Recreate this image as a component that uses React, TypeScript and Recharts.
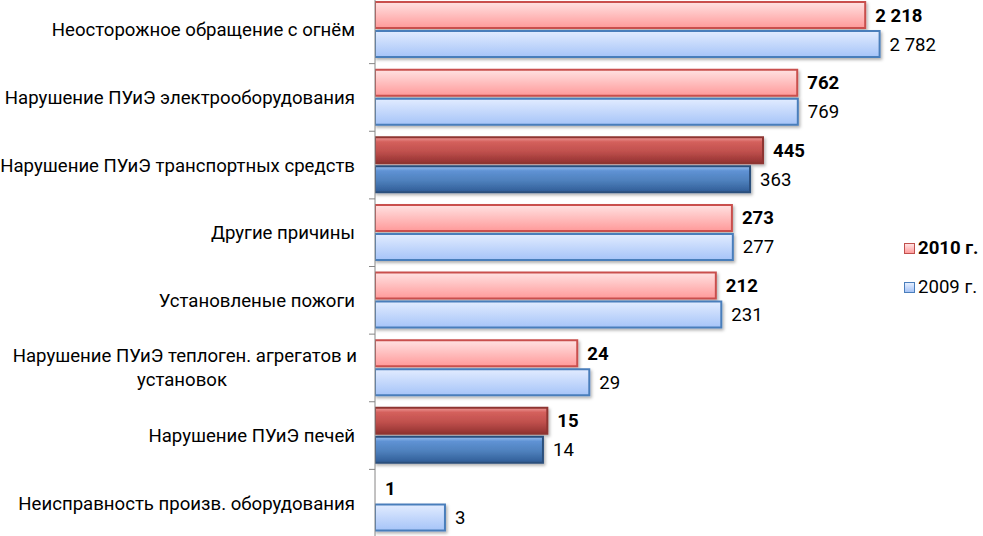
import React from 'react';
import { BarChart, Bar, XAxis, YAxis, Cell, LabelList } from 'recharts';

const categories = [
  'Неосторожное обращение с огнём',
  'Нарушение ПУиЭ электрооборудования',
  'Нарушение ПУиЭ транспортных средств',
  'Другие причины',
  'Установленые пожоги',
  'Нарушение ПУиЭ теплоген. агрегатов и\nустановок',
  'Нарушение ПУиЭ печей',
  'Неисправность произв. оборудования',
];
const values2010 = [2218, 762, 445, 273, 212, 24, 15, 1];
const values2009 = [2782, 769, 363, 277, 231, 29, 14, 3];
const highlighted = [false, false, true, false, false, false, true, false];
const seriesNames = ['2010 г.', '2009 г.'];

const data = categories.map((name, i) => ({
  name,
  y2010: values2010[i],
  y2009: values2009[i],
  hl: highlighted[i],
}));

const FONT = 'Roboto, "Noto Sans", sans-serif';
const FS = 18.6;
const CHART_H = 541;
const HALF_BAND = CHART_H / categories.length / 2;
const AXIS_MIN = 0.999;

const fmt = (v: any) => String(v).replace(/\B(?=(\d{3})+(?!\d))/g, '\u00a0');

const CatTick = (props: any) => {
  const { x, y, payload } = props;
  const lines: string[] = String(payload.value).split('\n');
  const axisX = x + 8;
  return (
    <g>
      <line x1={axisX - 6} x2={axisX} y1={y + HALF_BAND} y2={y + HALF_BAND} stroke="#868686" strokeWidth={1} />
      {lines.length === 1 ? (
        <text x={x - 12} y={y} dy="0.35em" textAnchor="end" fontFamily={FONT} fontSize={FS} fill="#000">
          {lines[0]}
        </text>
      ) : (
        <text fontFamily={FONT} fontSize={FS} fill="#000">
          <tspan x={x - 10} y={y - 12} dy="0.35em" textAnchor="end">{lines[0]}</tspan>
          <tspan x={x - 185} y={y + 12} dy="0.35em" textAnchor="middle">{lines[1]}</tspan>
        </text>
      )}
    </g>
  );
};

const makeLabel = (bold: boolean) => (props: any) => {
  const { x, y, width, height, value } = props;
  return (
    <text
      x={Number(x) + Number(width || 0) + 10}
      y={Number(y) + Number(height) / 2}
      dy="0.35em"
      textAnchor="start"
      fontFamily={FONT}
      fontSize={FS}
      fontWeight={bold ? 'bold' : 'normal'}
      fill="#000"
    >
      {fmt(value)}
    </text>
  );
};

const LegendBox = () => (
  <div style={{ position: 'absolute', left: 904, top: 237, fontFamily: FONT, fontSize: FS, color: '#000', lineHeight: '22px' }}>
    <div style={{ display: 'flex', alignItems: 'center', height: 22, fontWeight: 'bold' }}>
      <span style={{ display: 'inline-block', width: 9, height: 9, border: '1.5px solid #c0504d', background: 'linear-gradient(#ffe3e3,#ff9d9d)', marginRight: 3 }} />
      {seriesNames[0]}
    </div>
    <div style={{ display: 'flex', alignItems: 'center', height: 22, marginTop: 17 }}>
      <span style={{ display: 'inline-block', width: 9, height: 9, border: '1.5px solid #4a7ebb', background: 'linear-gradient(#e6efff,#a6c3f5)', marginRight: 3 }} />
      {seriesNames[1]}
    </div>
  </div>
);

export default function App() {
  return (
    <div style={{ position: 'absolute', left: 0, top: 0, width: 983, height: 536, overflow: 'hidden', background: '#fff' }}>
      <div style={{ position: 'absolute', left: 0, top: -4 }}>
        <BarChart
          width={983}
          height={CHART_H}
          data={data}
          layout="vertical"
          margin={{ top: 0, right: 22, bottom: 0, left: 0 }}
          barSize={26}
          barGap={3}
        >
          <defs>
            <linearGradient id="gRed" x1="0" y1="0" x2="0" y2="1">
              <stop offset="0%" stopColor="#ffe2e2" />
              <stop offset="100%" stopColor="#ff9a9a" />
            </linearGradient>
            <linearGradient id="gBlue" x1="0" y1="0" x2="0" y2="1">
              <stop offset="0%" stopColor="#e2ecff" />
              <stop offset="100%" stopColor="#a6c4f8" />
            </linearGradient>
            <linearGradient id="gRedDark" x1="0" y1="0" x2="0" y2="1">
              <stop offset="0%" stopColor="#ee9a98" />
              <stop offset="18%" stopColor="#d4605c" />
              <stop offset="55%" stopColor="#c0504d" />
              <stop offset="100%" stopColor="#923230" />
            </linearGradient>
            <linearGradient id="gBlueDark" x1="0" y1="0" x2="0" y2="1">
              <stop offset="0%" stopColor="#9cc0f0" />
              <stop offset="18%" stopColor="#5f92d4" />
              <stop offset="55%" stopColor="#4f81bd" />
              <stop offset="100%" stopColor="#2f5c96" />
            </linearGradient>
            <filter id="shadow" x="-5%" y="-20%" width="115%" height="160%">
              <feDropShadow dx="1.5" dy="2" stdDeviation="1.5" floodColor="#000" floodOpacity="0.3" />
            </filter>
          </defs>
          <XAxis type="number" scale="log" domain={[AXIS_MIN, 10000]} allowDataOverflow hide />
          <YAxis
            type="category"
            dataKey="name"
            width={375}
            axisLine={{ stroke: '#868686' }}
            tickLine={false}
            tick={<CatTick />}
            interval={0}
          />
          <Bar dataKey="y2010" name={seriesNames[0]} isAnimationActive={false} strokeWidth={2}>
            {data.map((d, i) => (
              <Cell
                key={i}
                fill={d.hl ? 'url(#gRedDark)' : 'url(#gRed)'}
                stroke={d.y2010 <= 1 ? 'none' : d.hl ? '#8e3431' : '#c9504e'}
                filter={d.y2010 <= 1 ? undefined : 'url(#shadow)'}
              />
            ))}
            <LabelList dataKey="y2010" content={makeLabel(true)} />
          </Bar>
          <Bar dataKey="y2009" name={seriesNames[1]} isAnimationActive={false} strokeWidth={2}>
            {data.map((d, i) => (
              <Cell
                key={i}
                fill={d.hl ? 'url(#gBlueDark)' : 'url(#gBlue)'}
                stroke={d.hl ? '#2c4f7c' : '#4a7ebb'}
                filter="url(#shadow)"
              />
            ))}
            <LabelList dataKey="y2009" content={makeLabel(false)} />
          </Bar>
        </BarChart>
      </div>
      <LegendBox />
    </div>
  );
}
